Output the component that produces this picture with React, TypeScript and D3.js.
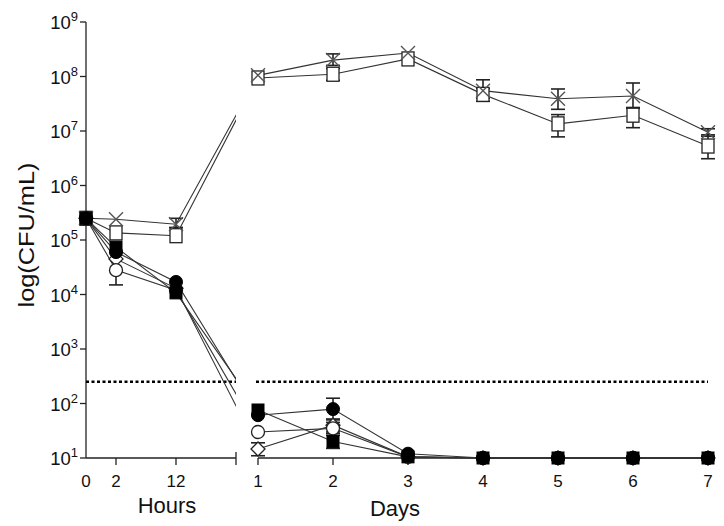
import React from "react";
import * as d3 from "d3";

// time points: hours for 0h,2h,12h, then days 1..7 expressed in hours
const timeHours = [0, 2, 12, 24, 48, 72, 96, 120, 144, 168];
const hourTicks = [0, 2, 12];
const dayTicks = [1, 2, 3, 4, 5, 6, 7];
const yTickExps = [1, 2, 3, 4, 5, 6, 7, 8, 9];
const detectionLimit = 250;

// series values (CFU/mL)
const crossVals = [2.5e5, 2.4e5, 1.95e5, 1.05e8, 2.0e8, 2.7e8, 5.5e7, 3.9e7, 4.4e7, 9.5e6];
const crossLo = [null, null, 1.7e5, null, 1.6e8, null, 4.0e7, 2.5e7, 2.7e7, 8.0e6];
const crossHi = [null, null, 2.5e5, null, 2.6e8, null, 8.7e7, 5.9e7, 7.6e7, 1.1e7];

const openSqVals = [2.5e5, 1.35e5, 1.2e5, 9.4e7, 1.1e8, 2.1e8, 4.7e7, 1.35e7, 1.95e7, 5.3e6];
const openSqLo = [null, null, null, null, 8.5e7, null, 3.5e7, 7.8e6, 1.15e7, 3.1e6];
const openSqHi = [null, null, null, null, 1.4e8, null, 6.0e7, 2.0e7, 2.6e7, 8.5e6];

const filledSqVals = [2.5e5, 7.4e4, 1.07e4, 76, 20, 10.5, 10, 10, 10, 10];
const filledSqLo = [null, null, null, null, 15, null, null, null, null, null];
const filledSqHi = [null, null, null, null, 26, null, null, null, null, null];

const filledCircVals = [2.5e5, 6.0e4, 1.7e4, 61, 79, 12, 10, 10, 10, 10];
const filledCircLo = [null, null, null, null, 50, null, null, null, null, null];
const filledCircHi = [null, null, null, null, 125, null, null, null, null, null];

const openCircVals = [2.5e5, 2.8e4, 1.2e4, 30, 35, 10.5, 10, 10, 10, 10];
const openCircLo = [null, 1.5e4, null, null, 28, null, null, null, null, null];
const openCircHi = [null, 4.5e4, null, null, 45, null, null, null, null, null];

const diamondVals = [2.5e5, 4.5e4, 1.3e4, 14.6, 40, 10.5, 10, 10, 10, 10];
const diamondLo = [null, null, null, 11, 30, null, null, null, null, null];
const diamondHi = [null, null, null, 19, 52, null, null, null, null, null];

type Marker = "cross" | "openSq" | "filledSq" | "filledCirc" | "openCirc" | "diamond";
const series: { marker: Marker; vals: number[]; lo: (number | null)[]; hi: (number | null)[] }[] = [
  { marker: "openSq", vals: openSqVals, lo: openSqLo, hi: openSqHi },
  { marker: "cross", vals: crossVals, lo: crossLo, hi: crossHi },
  { marker: "diamond", vals: diamondVals, lo: diamondLo, hi: diamondHi },
  { marker: "openCirc", vals: openCircVals, lo: openCircLo, hi: openCircHi },
  { marker: "filledCirc", vals: filledCircVals, lo: filledCircLo, hi: filledCircHi },
  { marker: "filledSq", vals: filledSqVals, lo: filledSqLo, hi: filledSqHi },
];

const W = 724;
const H = 526;
const FONT = "'Liberation Sans', Arial, sans-serif";
const INK = "#222";

export default function App() {
  const x = d3.scaleLinear().domain([0, 2, 12, 24, 168]).range([86, 116, 176, 258, 708]);
  const y = d3.scaleLog().domain([10, 1e9]).range([458, 22]);
  const leftEnd = 236;
  const line = d3
    .line<[number, number]>()
    .x((d) => x(d[0]))
    .y((d) => y(d[1]));

  const renderMarker = (m: Marker, cx: number, cy: number, key: string) => {
    const s = 6;
    switch (m) {
      case "openSq":
        return <rect key={key} x={cx - s} y={cy - s - 1} width={2 * s} height={2 * s + 2} fill="#fff" stroke={INK} strokeWidth={1.3} />;
      case "filledSq":
        return <rect key={key} x={cx - s} y={cy - s} width={2 * s} height={2 * s} fill="#000" stroke="#000" strokeWidth={1} />;
      case "filledCirc":
        return <circle key={key} cx={cx} cy={cy} r={6.5} fill="#000" stroke="#000" />;
      case "openCirc":
        return <circle key={key} cx={cx} cy={cy} r={6.5} fill="#fff" stroke={INK} strokeWidth={1.3} />;
      case "diamond":
        return (
          <path key={key} d={`M${cx},${cy - 7}L${cx + 7},${cy}L${cx},${cy + 7}L${cx - 7},${cy}Z`} fill="#fff" stroke={INK} strokeWidth={1.3} />
        );
      case "cross":
        return (
          <path key={key} d={`M${cx - 7},${cy - 7}L${cx + 7},${cy + 7}M${cx - 7},${cy + 7}L${cx + 7},${cy - 7}`} fill="none" stroke="#555" strokeWidth={1.4} />
        );
    }
  };

  const leftIdx = [0, 1, 2, 3];
  const rightIdx = [3, 4, 5, 6, 7, 8, 9];

  return (
    <svg width={W} height={H} style={{ position: "absolute", left: 0, top: 0, background: "#fff" }} fontFamily={FONT}>
      <defs>
        <clipPath id="leftClip">
          <rect x={0} y={0} width={leftEnd} height={H} />
        </clipPath>
      </defs>
      <rect width={W} height={H} fill="#fff" />

      {/* Y axis */}
      <line x1={86} x2={86} y1={y(1e9)} y2={y(10)} stroke={INK} strokeWidth={1.3} />
      {yTickExps.map((e) => (
        <g key={e}>
          <line x1={80} x2={86} y1={y(Math.pow(10, e))} y2={y(Math.pow(10, e))} stroke={INK} strokeWidth={1.3} />
          <text x={78} y={y(Math.pow(10, e)) + 7} textAnchor="end" fontSize={18.5} fill="#111">
            10
            <tspan fontSize={13} dy={-8}>
              {e}
            </tspan>
          </text>
        </g>
      ))}

      {/* left x axis (hours) */}
      <line x1={86} x2={leftEnd} y1={458} y2={458} stroke={INK} strokeWidth={1.3} />
      {hourTicks.map((h) => (
        <g key={"h" + h}>
          {h !== 0 && <line x1={x(h)} x2={x(h)} y1={458} y2={465} stroke={INK} strokeWidth={1.3} />}
          <text x={x(h)} y={487} textAnchor="middle" fontSize={17} fill="#111">
            {h}
          </text>
        </g>
      ))}
      <line x1={leftEnd} x2={leftEnd} y1={452} y2={465} stroke={INK} strokeWidth={1.3} />
      <text x={167} y={513} textAnchor="middle" fontSize={22} fill="#111">
        Hours
      </text>

      {/* right x axis (days) */}
      <line x1={x(24)} x2={x(168)} y1={458} y2={458} stroke={INK} strokeWidth={1.3} />
      {dayTicks.map((d) => (
        <g key={"d" + d}>
          <line x1={x(d * 24)} x2={x(d * 24)} y1={458} y2={465} stroke={INK} strokeWidth={1.3} />
          <text x={x(d * 24)} y={487} textAnchor="middle" fontSize={17} fill="#111">
            {d}
          </text>
        </g>
      ))}
      <text x={395} y={516} textAnchor="middle" fontSize={22} fill="#111">
        Days
      </text>

      {/* Y label */}
      <text
        transform={`translate(34,235) rotate(-90)`}
        textAnchor="middle"
        fontSize={22}
        fill="#111"
        textLength={145}
        lengthAdjust="spacingAndGlyphs"
      >
        log(CFU/mL)
      </text>

      {/* detection limit */}
      <line x1={86} x2={leftEnd} y1={y(detectionLimit)} y2={y(detectionLimit)} stroke="#000" strokeWidth={2.6} strokeDasharray="3,2.5" />
      <line x1={256} x2={708} y1={y(detectionLimit)} y2={y(detectionLimit)} stroke="#000" strokeWidth={2.6} strokeDasharray="3,2.5" />

      {/* lines */}
      {series.map((s, si) => (
        <g key={"l" + si} fill="none" stroke="#333" strokeWidth={1.1}>
          <path clipPath="url(#leftClip)" d={line(leftIdx.map((i) => [timeHours[i], s.vals[i]] as [number, number])) || ""} />
          <path d={line(rightIdx.map((i) => [timeHours[i], s.vals[i]] as [number, number])) || ""} />
        </g>
      ))}

      {/* error bars */}
      {series.map((s, si) =>
        s.vals.map((v, i) => {
          const lo = s.lo[i];
          const hi = s.hi[i];
          if (lo == null || hi == null) return null;
          const cx = x(timeHours[i]);
          return (
            <g key={`e${si}-${i}`} stroke="#222" strokeWidth={1.6}>
              <line x1={cx} x2={cx} y1={y(lo)} y2={y(hi)} />
              <line x1={cx - 7} x2={cx + 7} y1={y(lo)} y2={y(lo)} />
              <line x1={cx - 7} x2={cx + 7} y1={y(hi)} y2={y(hi)} />
            </g>
          );
        })
      )}

      {/* markers */}
      {series.map((s, si) => (
        <g key={"m" + si}>{s.vals.map((v, i) => renderMarker(s.marker, x(timeHours[i]), y(v), `m${si}-${i}`))}</g>
      ))}
    </svg>
  );
}
